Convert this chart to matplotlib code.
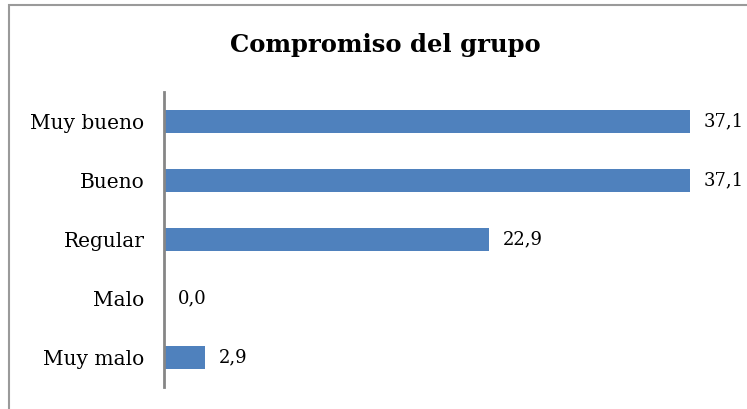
import matplotlib.pyplot as plt
from matplotlib.patches import Rectangle

categories = ['Muy malo', 'Malo', 'Regular', 'Bueno', 'Muy bueno']
values = [2.9, 0.0, 22.9, 37.1, 37.1]
labels = ['2,9', '0,0', '22,9', '37,1', '37,1']

plt.rcParams['font.family'] = ['DejaVu Serif']

fig = plt.figure(figsize=(7.47, 4.09), dpi=100)
W, H = 747, 409

# chart border (cropped at right/bottom in the reference)
fig.patches.append(Rectangle((9 / W, -0.1), 1.2, (H - 5) / H + 0.1,
                             transform=fig.transFigure, fill=False,
                             edgecolor='#9a9a9a', linewidth=1.5))

ax = fig.add_axes([164 / W, 1 - 387 / H, (731 - 164) / W, (387 - 92) / H])
y = range(len(categories))
ax.barh(y, values, height=0.4, color='#4f81bd')
ax.set_xlim(0, 40)
ax.set_ylim(-0.5, 4.5)
ax.set_yticks(list(y))
ax.set_yticklabels(categories, fontsize=14.5)
ax.tick_params(axis='y', length=0, pad=14)
ax.set_xticks([])
for s in ['top', 'right', 'bottom']:
    ax.spines[s].set_visible(False)
ax.spines['left'].set_color('#868686')
ax.spines['left'].set_linewidth(2)

for yi, v, lab in zip(y, values, labels):
    ax.annotate(lab, (v, yi), xytext=(14, 0), textcoords='offset pixels',
                va='center', ha='left', fontsize=13)

fig.text(385 / W, 1 - 45 / H, 'Compromiso del grupo', ha='center',
         va='center', fontsize=17.5, fontweight='bold')

fig.savefig('out.png', dpi=100)
